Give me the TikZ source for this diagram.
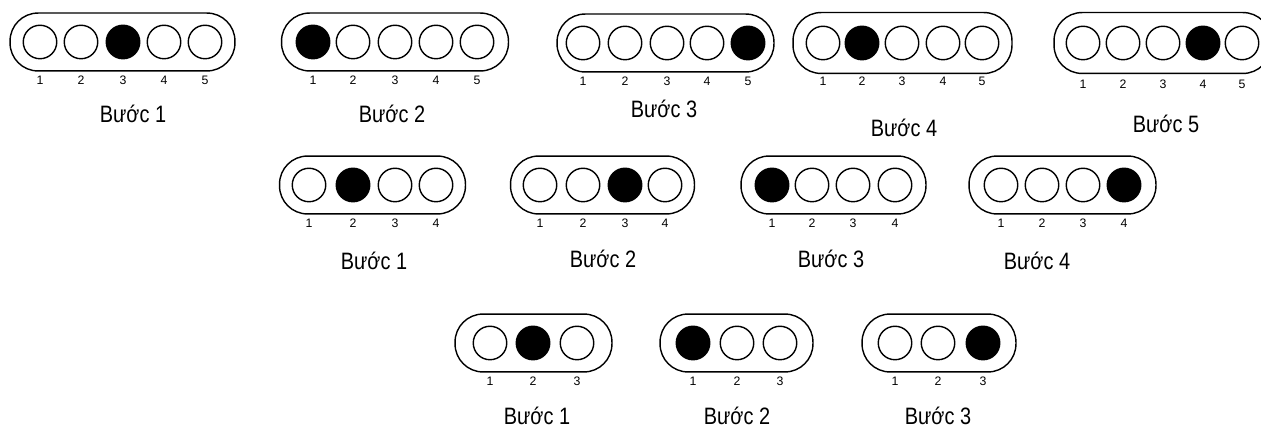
\documentclass[tikz,border=0pt]{standalone}
\usepackage{fontspec}
\setmainfont{Liberation Sans}
\newfontfamily\stepfont[FakeStretch=0.84]{Liberation Sans}
\usetikzlibrary{positioning,fit}

\begin{document}
\begin{tikzpicture}[
    x=0.02cm,
    y=-0.02cm,
    hole/.style={
        draw,
        circle,
        thick,
        minimum size=0.67cm,
        inner sep=0pt
    },
    ball/.style={hole, fill=black},
    pill/.style={
        draw,
        thick,
        rounded corners=0.56cm,
        inner ysep=0.23cm
    },
    num/.style={font=\fontsize{7}{8}\selectfont, inner sep=0pt, label distance=0.33cm},
    steplabel/.style={font=\stepfont\fontsize{13.5}{15}\selectfont, anchor=base, inner sep=0pt}
]
\useasboundingbox (0,0) rectangle (1261,428);
\clip (0,0) rectangle (1261,428);

% ============================================================
% HANG 1: NAM O
% ============================================================
% Buoc 1
\foreach \i/\x/\s in {1/40/hole, 2/81/hole, 3/123/ball, 4/164/hole, 5/205/hole}
    \node[\s, label={[num]below:\i}] (h11-\i) at (\x,42) {};
\node[pill, inner xsep=0.25cm, fit=(h11-1)(h11-5)] (p11) {};
\node[steplabel] (t11) at (133,123) {Bước 1};

% Buoc 2
\foreach \i/\x/\s in {1/313/ball, 2/353/hole, 3/395/hole, 4/436/hole, 5/477/hole}
    \node[\s, label={[num]below:\i}] (h12-\i) at (\x,42) {};
\node[pill, inner xsep=0.28cm, fit=(h12-1)(h12-5)] (p12) {};
\node[steplabel] (t12) at (392,123) {Bước 2};

% Buoc 3
\foreach \i/\x/\s in {1/583/hole, 2/625/hole, 3/667/hole, 4/707/hole, 5/748/ball}
    \node[\s, label={[num]below:\i}] (h13-\i) at (\x,43) {};
\node[pill, inner xsep=0.17cm, fit=(h13-1)(h13-5)] (p13) {};
\node[steplabel] (t13) at (664,118) {Bước 3};

% Buoc 4
\foreach \i/\x/\s in {1/823/hole, 2/862/ball, 3/902/hole, 4/943/hole, 5/982/hole}
    \node[\s, label={[num]below:\i}] (h14-\i) at (\x,43) {};
\node[pill, inner xsep=0.25cm, inner ysep=0.26cm, fit=(h14-1)(h14-5)] (p14) {};
\node[steplabel] (t14) at (904,137) {Bước 4};

% Buoc 5 (bi cat o mep phai)
\foreach \i/\x/\s in {1/1083/hole, 2/1123/hole, 3/1163/hole, 4/1203/ball, 5/1242/hole}
    \node[\s, label={[num, label distance=0.39cm]below:\i}] (h15-\i) at (\x,43) {};
\node[pill, inner xsep=0.23cm, inner ysep=0.26cm, fit=(h15-1)(h15-5)] (p15) {};
\node[steplabel] (t15) at (1166,133) {Bước 5};

% ============================================================
% HANG 2: BON O
% ============================================================
\foreach \i/\x/\s in {1/309/hole, 2/353/ball, 3/395/hole, 4/436/hole}
    \node[\s, label={[num]below:\i}] (h21-\i) at (\x,185) {};
\node[pill, inner xsep=0.24cm, fit=(h21-1)(h21-4)] (p21) {};
\node[steplabel] (t21) at (374,270) {Bước 1};

\foreach \i/\x/\s in {1/540/hole, 2/583/hole, 3/625/ball, 4/665/hole}
    \node[\s, label={[num]below:\i}] (h22-\i) at (\x,185) {};
\node[pill, inner xsep=0.24cm, fit=(h22-1)(h22-4)] (p22) {};
\node[steplabel] (t22) at (603,268) {Bước 2};

\foreach \i/\x/\s in {1/772/ball, 2/812/hole, 3/853/hole, 4/895/hole}
    \node[\s, label={[num]below:\i}] (h23-\i) at (\x,185) {};
\node[pill, inner xsep=0.27cm, fit=(h23-1)(h23-4)] (p23) {};
\node[steplabel] (t23) at (831,268) {Bước 3};

\foreach \i/\x/\s in {1/1001/hole, 2/1042/hole, 3/1083/hole, 4/1124/ball}
    \node[\s, label={[num]below:\i}] (h24-\i) at (\x,185) {};
\node[pill, inner xsep=0.29cm, fit=(h24-1)(h24-4)] (p24) {};
\node[steplabel] (t24) at (1037,270) {Bước 4};

% ============================================================
% HANG 3: BA O
% ============================================================
\foreach \i/\x/\s in {1/490/hole, 2/533/ball, 3/577/hole}
    \node[\s, label={[num]below:\i}] (h31-\i) at (\x,343) {};
\node[pill, inner xsep=0.35cm, fit=(h31-1)(h31-3)] (p31) {};
\node[steplabel] (t31) at (537,425) {Bước 1};

\foreach \i/\x/\s in {1/693/ball, 2/737/hole, 3/780/hole}
    \node[\s, label={[num]below:\i}] (h32-\i) at (\x,343) {};
\node[pill, inner xsep=0.31cm, fit=(h32-1)(h32-3)] (p32) {};
\node[steplabel] (t32) at (737,425) {Bước 2};

\foreach \i/\x/\s in {1/895/hole, 2/938/hole, 3/983/ball}
    \node[\s, label={[num]below:\i}] (h33-\i) at (\x,343) {};
\node[pill, inner xsep=0.31cm, fit=(h33-1)(h33-3)] (p33) {};
\node[steplabel] (t33) at (938,425) {Bước 3};

\end{tikzpicture}
\end{document}
